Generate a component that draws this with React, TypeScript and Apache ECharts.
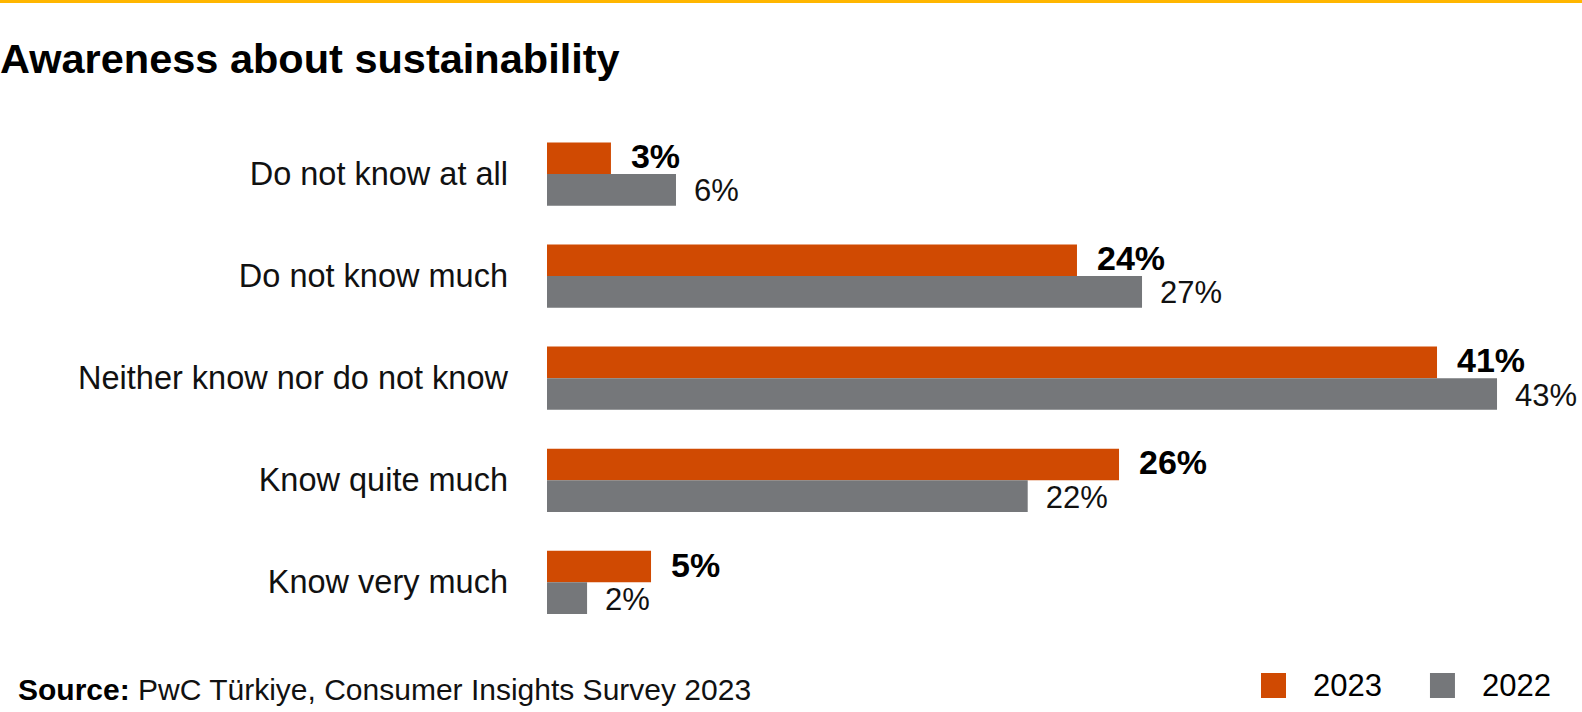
import React, { useEffect, useRef } from 'react'
import * as echarts from 'echarts'

// Chart data
const categories = [
  'Do not know at all',
  'Do not know much',
  'Neither know nor do not know',
  'Know quite much',
  'Know very much',
]
// bar lengths as measured; the labels show them rounded
const values2023 = [2.92, 24.2, 40.64, 26.12, 4.75]
const values2022 = [5.89, 27.17, 43.38, 21.95, 1.83]
const seriesNames = ['2023', '2022']

const ORANGE = '#D04A02'
const GREY = '#75777A'
const FONT = '"Liberation Sans", Arial, Helvetica, sans-serif'

const App: React.FC = () => {
  const chartRef = useRef<HTMLDivElement>(null)

  useEffect(() => {
    document.body.style.margin = '0'
    if (!chartRef.current) return
    const chart = echarts.init(chartRef.current, undefined, { renderer: 'svg' })

    const pct = (p: any) => `${Math.round(p.value)}%`

    const option: echarts.EChartsOption = {
      animation: false,
      textStyle: { fontFamily: FONT },
      title: {
        text: 'Awareness about sustainability',
        left: 0,
        top: 37,
        padding: 0,
        textStyle: {
          fontSize: 41.5,
          fontWeight: 'bold',
          color: '#000',
          fontFamily: FONT,
        },
      },
      legend: {
        data: seriesNames,
        left: 1261,
        top: 670,
        padding: 0,
        icon: 'rect',
        itemWidth: 25,
        itemHeight: 25,
        itemGap: 48,
        textStyle: {
          fontSize: 31,
          color: '#000',
          fontFamily: FONT,
          padding: [0, 0, 0, 22],
        },
      },
      grid: {
        left: 547,
        top: 123,
        width: 985.5,
        height: 510.4,
        containLabel: false,
      },
      xAxis: {
        type: 'value',
        min: 0,
        max: 45,
        show: false,
      },
      yAxis: {
        type: 'category',
        inverse: true,
        data: categories,
        axisLine: { show: false },
        axisTick: { show: false },
        axisLabel: {
          margin: 39,
          fontSize: 32.5,
          color: '#111',
          fontFamily: FONT,
        },
      },
      series: [
        {
          name: seriesNames[0],
          type: 'bar',
          data: values2023,
          barGap: '0%',
          barCategoryGap: '38%',
          itemStyle: { color: ORANGE },
          label: {
            show: true,
            position: 'right',
            distance: 20,
            offset: [0, -2],
            formatter: pct,
            fontSize: 34,
            fontWeight: 'bold',
            color: '#000',
            fontFamily: FONT,
          },
        },
        {
          name: seriesNames[1],
          type: 'bar',
          data: values2022,
          barGap: '0%',
          barCategoryGap: '38%',
          itemStyle: { color: GREY },
          label: {
            show: true,
            position: 'right',
            distance: 18,
            offset: [0, 1],
            formatter: pct,
            fontSize: 31,
            color: '#111',
            fontFamily: FONT,
          },
        },
      ],
      graphic: [
        {
          type: 'rect',
          left: 0,
          top: 0,
          shape: { width: 1582, height: 3 },
          style: { fill: '#FFB600' },
        },
        {
          type: 'text',
          left: 18,
          top: 674,
          style: {
            text: '{b|Source:} PwC Türkiye, Consumer Insights Survey 2023',
            fontSize: 30,
            fontFamily: FONT,
            fill: '#111',
            rich: {
              b: { fontSize: 30, fontWeight: 'bold', fontFamily: FONT, fill: '#000' },
            },
          },
        },
      ],
    }

    chart.setOption(option)

    return () => {
      chart.dispose()
    }
  }, [])

  return <div ref={chartRef} style={{ width: 1582, height: 712 }} />
}

export default App
